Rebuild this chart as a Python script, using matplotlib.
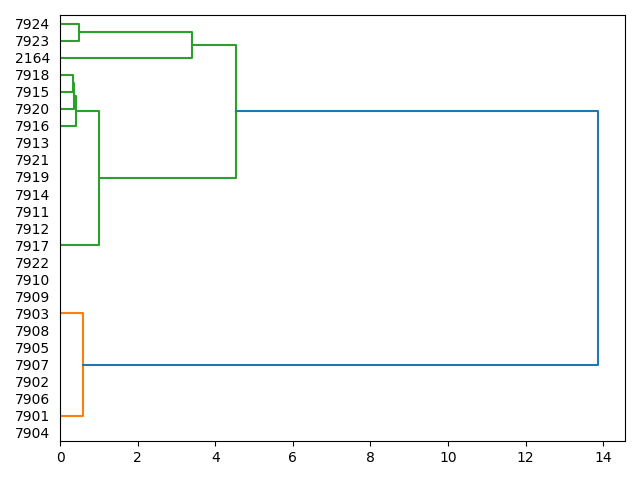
import matplotlib
matplotlib.use("Agg")
import matplotlib.pyplot as plt

# leaf labels, top to bottom as they appear
labels_top_down = ["7924", "7923", "2164", "7918", "7915", "7920", "7916",
                   "7913", "7921", "7919", "7914", "7911", "7912", "7917",
                   "7922", "7910", "7909", "7903", "7908", "7905", "7907",
                   "7902", "7906", "7901", "7904"]

# merges: (child a, child b, height, colour); children are leaf labels or earlier merge ids
merge_a = ["7924", "m0", "7918", "m2", "m3", "m4", "m1", "7903", "m6"]
merge_b = ["7923", "2164", "7915", "7920", "7916", "7917", "m5", "7901", "m7"]
merge_h = [0.49, 3.40, 0.34, 0.37, 0.41, 1.01, 4.54, 0.585, 13.87]
merge_c = ["C2", "C2", "C2", "C2", "C2", "C2", "C2", "C1", "C0"]

leaves = labels_top_down[::-1]
pos = {lab: 5 + 10 * i for i, lab in enumerate(leaves)}
height = {lab: 0.0 for lab in leaves}

fig, ax = plt.subplots(figsize=(6.4, 4.8), dpi=100)

for i, (a, b, h, c) in enumerate(zip(merge_a, merge_b, merge_h, merge_c)):
    ya, yb = pos[a], pos[b]
    ax.plot([height[a], h, h, height[b]], [ya, ya, yb, yb], color=c, lw=1.5)
    pos["m%d" % i] = (ya + yb) / 2
    height["m%d" % i] = h

ax.set_ylim(0, 10 * len(leaves))
ax.set_xlim(0, max(merge_h) * 1.05)
ax.set_yticks([pos[lab] for lab in leaves])
ax.set_yticklabels(leaves, fontsize=10)
for line in ax.get_yticklines():
    line.set_visible(False)

fig.tight_layout()
fig.savefig("out.png")
